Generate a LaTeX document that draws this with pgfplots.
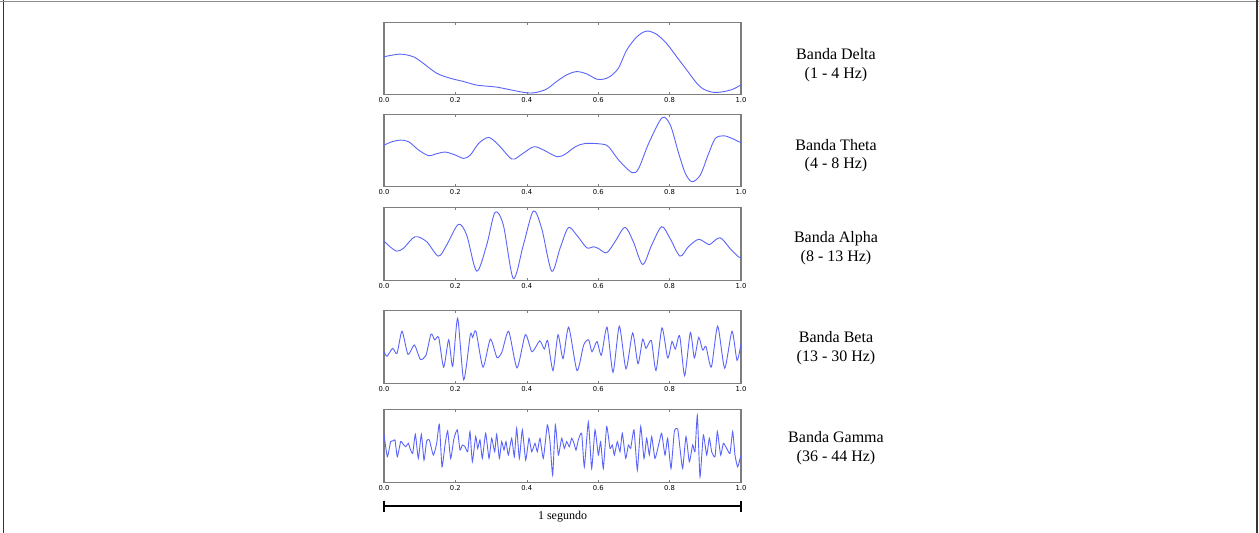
\documentclass[border=0pt]{standalone}
\usepackage{fontspec}
\setmainfont{Liberation Serif}
\newfontfamily\dejavu{DejaVu Sans}
\usepackage{pgfplots}
\pgfplotsset{compat=1.18}
\definecolor{sig}{RGB}{90,100,250}
\definecolor{frm}{RGB}{125,125,125}
\pgfplotsset{panel/.style={
  scale only axis, width=357pt, height=72.5pt, anchor=center,
  axis line style={frm, line width=1.1pt},
  y dir=reverse, ytick=\empty,
  xticklabels={0.0,0.2,0.4,0.6,0.8,1.0},
  tick style={frm, line width=0.6pt}, major tick length=2.5pt, tick align=inside,
  xtick pos=both, xticklabel pos=lower,
  xticklabel style={font=\dejavu\fontsize{6.8}{7}\selectfont, text=black, inner sep=0pt, yshift=-2.8pt},
  every axis plot/.append style={sig, line width=0.9pt, no markers},
}}
\begin{document}
\begin{tikzpicture}[x=1pt,y=1pt]
\useasboundingbox (0,0) rectangle (1259,-533);
\draw[line width=1.5pt, black!80] (3.5,0) -- (3.5,-533);
\draw[line width=1pt, black!45] (0,-1.5) -- (1259,-1.5);
\draw[line width=1.5pt, black!80] (1256.8,0) -- (1256.8,-533);

% Delta
\begin{axis}[panel, at={(562.5pt,-58.4pt)}, xmin=42, xmax=1113, ymin=35, ymax=255,
  xtick={42,256.2,470.4,684.6,898.8,1113}]
\addplot[smooth] coordinates {(42,140)(90,132)(130,140)(160,160)(200,190)(240,205)(280,215)(320,226)(360,230)(380,232)(420,240)(460,248)(480,250)(500,248)(530,238)(560,215)(590,195)(620,185)(650,192)(680,208)(700,208)(720,200)(745,175)(770,120)(800,80)(830,62)(860,72)(890,100)(920,140)(950,180)(980,220)(1000,238)(1030,248)(1060,246)(1090,238)(1113,225)};
\end{axis}

% Theta
\begin{axis}[panel, at={(562.5pt,-150.4pt)}, xmin=46, xmax=1117, ymin=312, ymax=530,
  xtick={46,260.2,474.4,688.6,902.8,1117}]
\addplot[smooth] coordinates {(46,405)(70,395)(95,390)(120,395)(150,420)(180,437)(200,432)(230,426)(260,435)(285,445)(305,435)(330,400)(360,382)(390,405)(430,447)(460,432)(495,410)(525,420)(565,440)(590,432)(620,410)(650,400)(700,402)(720,410)(750,450)(790,488)(810,475)(840,400)(880,323)(905,345)(930,430)(950,490)(970,515)(995,495)(1020,430)(1040,385)(1065,377)(1090,385)(1117,398)};
\end{axis}

% Alpha
\begin{axis}[panel, at={(562.5pt,-243.9pt)}, xmin=42, xmax=1113, ymin=38, ymax=255,
  xtick={42,256.2,470.4,684.6,898.8,1113}]
\addplot[smooth] coordinates {(42,138)(60,155)(80,168)(100,160)(135,125)(170,140)(205,183)(230,150)(265,88)(290,120)(320,228)(350,150)(375,52)(400,90)(430,250)(460,150)(490,48)(515,100)(545,228)(570,160)(595,98)(620,120)(650,158)(670,155)(685,160)(710,173)(735,140)(765,97)(790,140)(818,208)(845,150)(875,95)(900,130)(930,183)(955,155)(985,133)(1010,145)(1020,148)(1050,128)(1080,160)(1105,185)(1113,187)};
\end{axis}

% Beta
\begin{axis}[panel, at={(562.5pt,-347pt)}, xmin=46, xmax=1117, ymin=350, ymax=562,
  xtick={46,260.2,474.4,688.6,902.8,1117}]
\addplot[smooth, tension=0.4] coordinates {(46,470)(55,483)(72,460)(85,475)(100,410)(118,478)(137,450)(155,492)(172,480)(187,418)(198,435)(210,428)(225,515)(240,435)(252,513)(267,372)(285,552)(305,420)(312,428)(322,410)(343,515)(365,433)(385,487)(400,470)(420,410)(445,517)(470,420)(490,470)(513,438)(527,462)(537,437)(553,525)(568,420)(583,490)(600,398)(625,525)(645,450)(660,435)(670,470)(685,440)(698,480)(715,398)(733,530)(752,395)(772,520)(792,415)(808,505)(822,433)(832,460)(848,437)(862,525)(880,400)(897,488)(910,440)(920,462)(933,423)(948,540)(965,413)(977,488)(990,428)(1002,465)(1012,455)(1028,515)(1047,395)(1068,518)(1090,410)(1105,495)(1117,447)};
\end{axis}

% Gamma
\begin{axis}[panel, at={(562.5pt,-446pt)}, xmin=12, xmax=1083, ymin=15, ymax=231,
  xtick={12,226.2,440.4,654.6,868.8,1083}]
\addplot[smooth, tension=0.3] coordinates {(12,88)(22,155)(32,110)(40,108)(45,105)(52,155)(62,110)(70,118)(77,125)(85,115)(90,130)(98,145)(106,88)(115,160)(124,88)(132,165)(140,108)(148,105)(160,150)(170,115)(178,58)(186,185)(195,120)(203,78)(212,160)(222,100)(232,75)(240,135)(247,120)(255,125)(263,140)(270,80)(277,170)(287,95)(293,130)(300,105)(307,160)(317,85)(327,160)(335,100)(344,140)(350,88)(358,160)(365,110)(372,135)(378,110)(385,150)(395,100)(403,155)(410,70)(418,160)(427,75)(437,165)(447,100)(455,140)(465,115)(472,140)(480,100)(490,160)(502,60)(510,110)(518,210)(526,60)(535,150)(545,100)(553,130)(560,110)(568,125)(575,100)(582,115)(588,135)(595,105)(605,85)(613,185)(625,52)(635,190)(645,75)(655,150)(662,110)(670,190)(680,65)(690,130)(697,120)(703,150)(712,110)(720,140)(727,85)(737,160)(745,120)(752,130)(762,75)(772,195)(782,65)(792,160)(800,100)(808,150)(815,95)(825,160)(838,110)(845,85)(855,150)(863,100)(873,190)(883,80)(893,72)(900,130)(908,190)(918,95)(928,170)(938,120)(945,140)(952,32)(960,215)(970,90)(980,150)(988,100)(995,140)(1005,155)(1012,80)(1022,150)(1030,115)(1040,130)(1050,145)(1058,80)(1065,150)(1073,185)(1083,150)};
\end{axis}

% Labels
\begin{scope}[every node/.style={anchor=base, inner sep=0pt, font=\fontsize{16}{19}\selectfont}]
\node at (836,-59) {Banda Delta};
\node at (836,-78) {(1 - 4 Hz)};
\node at (836,-150) {Banda Theta};
\node at (836,-168.5) {(4 - 8 Hz)};
\node at (836,-242) {Banda Alpha};
\node at (836,-261) {(8 - 13 Hz)};
\node at (836,-342) {Banda Beta};
\node at (836,-361) {(13 - 30 Hz)};
\node at (836,-442) {Banda Gamma};
\node at (836,-461) {(36 - 44 Hz)};
\end{scope}

% Scale bar
\draw[line width=1.6pt] (384,-506) -- (741,-506);
\draw[line width=1.6pt] (384,-500.5) -- (384,-511.5);
\draw[line width=1.6pt] (741,-500.5) -- (741,-511.5);
\node[anchor=base, inner sep=0pt, font=\fontsize{12}{14}\selectfont] at (562.5,-519.5) {1 segundo};
\end{tikzpicture}
\end{document}
